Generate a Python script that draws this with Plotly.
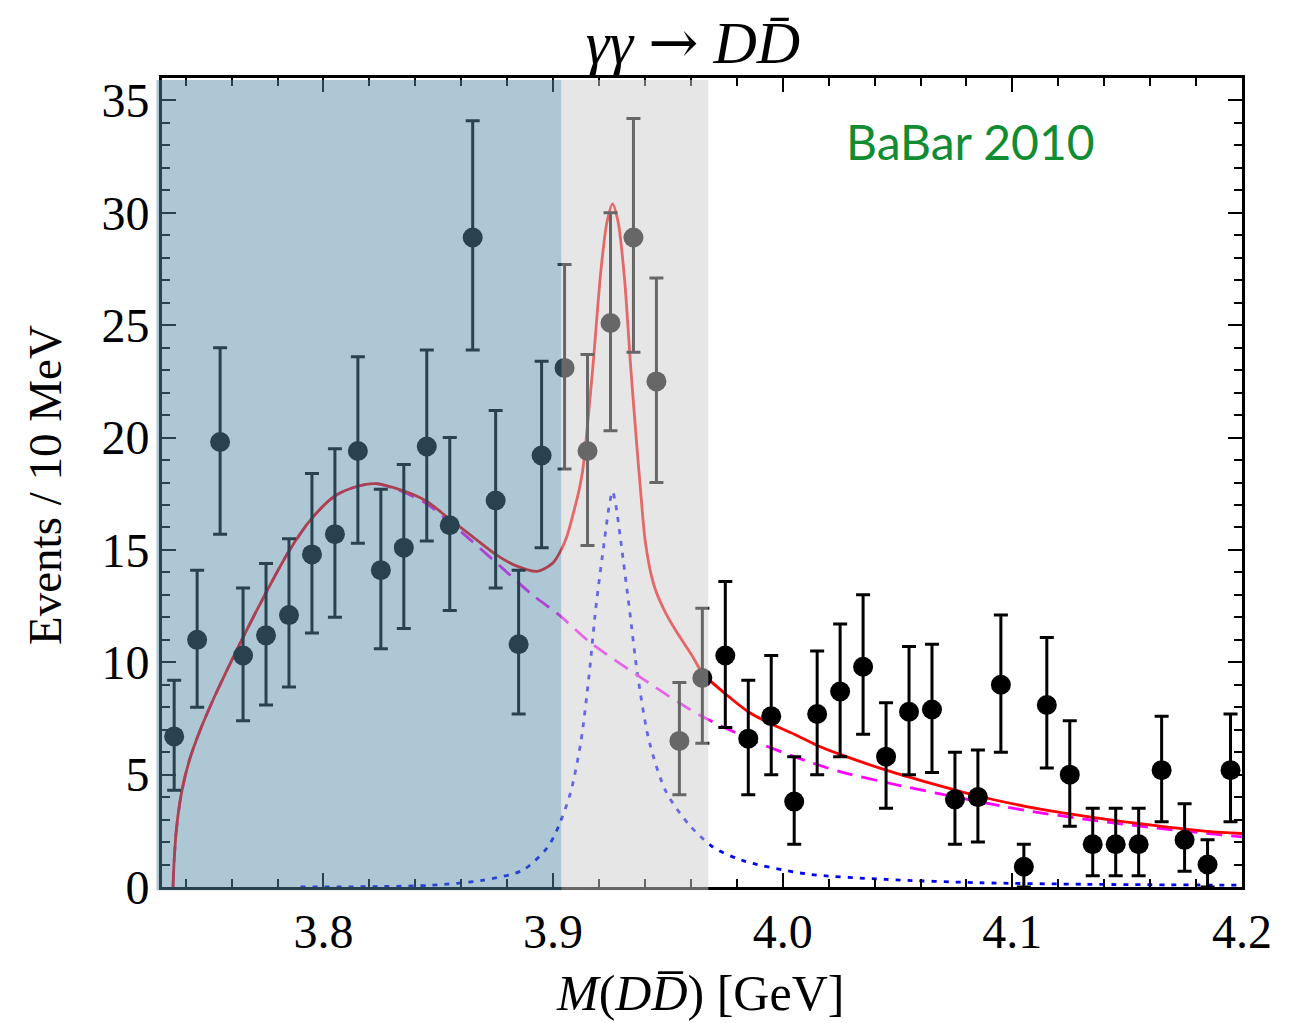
import plotly.graph_objects as go

# ---------------- data ----------------
mass = [3.735, 3.745, 3.755, 3.765, 3.775, 3.785, 3.795, 3.805, 3.815, 3.825,
        3.835, 3.845, 3.855, 3.865, 3.875, 3.885, 3.895, 3.905, 3.915, 3.925,
        3.935, 3.945, 3.955, 3.965, 3.975, 3.985, 3.995, 4.005, 4.015, 4.025,
        4.035, 4.045, 4.055, 4.065, 4.075, 4.085, 4.095, 4.105, 4.115, 4.125,
        4.135, 4.145, 4.155, 4.165, 4.175, 4.185, 4.195]
events = [6.7, 11.0, 19.8, 10.3, 11.2, 12.1, 14.8, 15.7, 19.4, 14.1,
          15.1, 19.6, 16.1, 28.9, 17.2, 10.8, 19.2, 23.1, 19.4, 25.1,
          28.9, 22.5, 6.5, 9.3, 10.3, 6.6, 7.6, 3.8, 7.7, 8.7,
          9.8, 5.8, 7.8, 7.9, 3.9, 4.0, 9.0, 0.9, 8.1, 5.0,
          1.9, 1.9, 1.9, 5.2, 2.1, 1.0, 5.2]
err_up = [2.5, 3.1, 4.2, 3.0, 3.2, 3.4, 3.6, 3.8, 4.2, 3.6,
          3.7, 4.3, 3.9, 5.2, 4.0, 3.3, 4.2, 4.6, 4.3, 4.9,
          5.3, 4.6, 2.6, 3.1, 3.3, 2.6, 2.7, 2.0, 2.8, 3.0,
          3.2, 2.4, 2.9, 2.9, 2.1, 2.1, 3.1, 1.0, 3.0, 2.4,
          1.6, 1.6, 1.6, 2.4, 1.6, 1.1, 2.5]
err_down = [2.4, 3.0, 4.1, 2.9, 3.1, 3.2, 3.5, 3.7, 4.1, 3.5,
            3.6, 4.2, 3.8, 5.0, 3.9, 3.1, 4.1, 4.5, 4.2, 4.8,
            5.1, 4.5, 2.4, 2.9, 3.2, 2.5, 2.6, 1.9, 2.7, 2.9,
            3.0, 2.3, 2.8, 2.8, 2.0, 2.0, 3.0, 0.9, 2.8, 2.3,
            1.4, 1.4, 1.4, 2.3, 1.4, 1.0, 2.3]

# total fit (solid red)
total_x = [3.7345, 3.7350, 3.7360, 3.7382, 3.7415, 3.7460, 3.7527, 3.7630, 3.7745,
           3.7847, 3.7949, 3.8050, 3.8138, 3.8226, 3.8313, 3.8444, 3.8546, 3.8648, 3.8750,
           3.8837, 3.8931, 3.8997, 3.9030, 3.9060, 3.9090, 3.9114, 3.9130, 3.9172, 3.9208,
           3.9235, 3.9259, 3.9283, 3.9310, 3.9339, 3.9365, 3.9383, 3.9400, 3.9427, 3.9450,
           3.9490, 3.9535, 3.9608, 3.9652, 3.9750, 3.9850, 3.9950, 4.0050, 4.0150, 4.0250,
           4.0450, 4.0650, 4.0850, 4.1050, 4.1250, 4.1450, 4.1650, 4.1850, 4.2000]
total_y = [0.0, 1.2, 2.6, 4.2, 5.6, 6.9, 8.5, 10.7, 13.0,
           14.9, 16.4, 17.4, 17.8, 17.95, 17.75, 17.2, 16.4, 15.6, 14.8,
           14.3, 14.05, 14.4, 14.9, 15.6, 16.7, 17.7, 18.6, 23.0, 27.4,
           29.6, 30.4, 29.6, 27.2, 23.0, 19.6, 17.4, 15.5, 13.9, 13.1,
           12.2, 11.4, 10.25, 9.5, 8.6, 7.8, 7.25, 6.8, 6.3, 5.9,
           5.2, 4.6, 4.05, 3.6, 3.25, 2.95, 2.7, 2.48, 2.38]

# background (dashed magenta)
bkg_x = [3.7345, 3.7350, 3.7360, 3.7382, 3.7415, 3.7460, 3.7527, 3.7630, 3.7745,
         3.7847, 3.7949, 3.8050, 3.8138, 3.8226, 3.8313, 3.8444, 3.8546, 3.8648, 3.8779,
         3.8910, 3.9026, 3.9157, 3.9376, 3.9638, 3.985, 4.005, 4.025, 4.045, 4.075,
         4.105, 4.135, 4.165, 4.2]
bkg_y = [0.0, 1.2, 2.6, 4.2, 5.6, 6.9, 8.5, 10.7, 13.0,
         14.9, 16.4, 17.4, 17.8, 17.95, 17.72, 17.09, 16.27, 15.38, 14.19,
         13.0, 12.11, 10.92, 9.36, 7.65, 6.61, 5.8, 5.13, 4.65, 4.01,
         3.42, 2.97, 2.6, 2.23]

# resonance signal (dotted blue)
sig_x = [3.79, 3.8255, 3.8473, 3.8692, 3.8866, 3.8975, 3.9026, 3.9077, 3.9121, 3.9157,
         3.9186, 3.9223, 3.9245, 3.9259, 3.9273, 3.9295, 3.9332, 3.9368, 3.9419, 3.9492,
         3.9594, 3.9696, 3.9822, 4.0097, 4.045, 4.0861, 4.132, 4.2]
sig_y = [0.0, 0.02, 0.08, 0.30, 0.74, 1.75, 2.75, 4.24, 6.46, 9.44,
         12.41, 15.38, 17.0, 17.6, 17.0, 15.38, 12.41, 9.44, 6.46, 4.24,
         2.75, 1.78, 1.19, 0.59, 0.34, 0.19, 0.12, 0.08]

x_range = [3.7297, 4.2]
y_range = [0, 36]
band_blue = [3.7273, 3.9036]
band_gray = [3.9036, 3.9676]

# ---------------- figure ----------------
fig = go.Figure()

fig.add_trace(go.Scatter(x=sig_x, y=sig_y, mode="lines",
                         line=dict(color="rgb(0,0,255)", width=2.8, dash="5px,7px", shape="spline", smoothing=0.8),
                         hoverinfo="skip", showlegend=False))
fig.add_trace(go.Scatter(x=bkg_x, y=bkg_y, mode="lines",
                         line=dict(color="rgb(255,0,255)", width=2.8, dash="16px,9px", shape="spline", smoothing=0.8),
                         hoverinfo="skip", showlegend=False))
fig.add_trace(go.Scatter(x=total_x, y=total_y, mode="lines",
                         line=dict(color="rgb(255,0,0)", width=2.8, shape="spline", smoothing=0.8),
                         hoverinfo="skip", showlegend=False))
fig.add_trace(go.Scatter(x=mass, y=events, mode="markers",
                         marker=dict(color="black", size=20),
                         error_y=dict(type="data", symmetric=False, array=err_up, arrayminus=err_down,
                                      color="black", thickness=3, width=7),
                         showlegend=False))


def xp(v):
    return (v - x_range[0]) / (x_range[1] - x_range[0])


shapes = [
    dict(type="rect", xref="paper", yref="paper",
         x0=min(xp(band_blue[0]), -0.004), x1=xp(band_blue[1]), y0=-0.004, y1=0.9975,
         fillcolor="rgba(83,137,166,0.48)", line=dict(width=0), layer="above"),
    dict(type="rect", xref="paper", yref="paper",
         x0=xp(band_gray[0]), x1=xp(band_gray[1]), y0=-0.004, y1=0.9975,
         fillcolor="rgba(205,205,205,0.5)", line=dict(width=0), layer="above"),
]

serif = "Liberation Serif, Times New Roman, serif"

fig.update_layout(
    width=1301, height=1023,
    margin=dict(l=162, r=59, t=78, b=136),
    paper_bgcolor="white", plot_bgcolor="white",
    shapes=shapes,
    title=dict(text="<i>γγ</i> <span style='font-family:DejaVu Serif'>→</span> <i>D</i><i>D\u0304</i>",
               x=693 / 1301, xanchor="center", y=1 - 42 / 1023, yanchor="middle", yref="container",
               font=dict(family=serif, size=60, color="black")),
    xaxis=dict(range=x_range, tickmode="linear", tick0=3.8, dtick=0.1, tickformat=".1f",
               ticks="inside", ticklen=14, tickwidth=2, tickcolor="black",
               showline=True, linewidth=3, linecolor="black", mirror="allticks",
               showgrid=False, zeroline=False,
               tickfont=dict(family=serif, size=48, color="black"),
               minor=dict(tick0=3.8, dtick=0.02, ticks="inside", ticklen=8, tickwidth=1.5,
                          tickcolor="black", showgrid=False)),
    yaxis=dict(range=y_range, tickmode="linear", tick0=0, dtick=5,
               ticks="inside", ticklen=14, tickwidth=2, tickcolor="black",
               showline=True, linewidth=3, linecolor="black", mirror="allticks",
               showgrid=False, zeroline=False,
               tickfont=dict(family=serif, size=48, color="black"),
               minor=dict(tick0=0, dtick=1, ticks="inside", ticklen=8, tickwidth=1.5,
                          tickcolor="black", showgrid=False)),
    annotations=[
        dict(text="<i>M</i>(<i>D</i><i>D\u0305</i>) [GeV]", xref="paper", yref="paper",
             x=(700 - 162) / 1080, y=-(993 - 887) / 809, xanchor="center", yanchor="middle",
             showarrow=False, font=dict(family=serif, size=50, color="black")),
        dict(text="Events / 10 MeV", xref="paper", yref="paper",
             x=-(162 - 45) / 1080, y=(887 - 485) / 809, xanchor="center", yanchor="middle",
             textangle=-90, showarrow=False, font=dict(family=serif, size=47, color="black")),
        dict(text="BaBar 2010", xref="paper", yref="paper",
             x=(970 - 162) / 1080, y=(887 - 142) / 809, xanchor="center", yanchor="middle",
             showarrow=False, font=dict(family="Lato, Open Sans, sans-serif", size=48,
                                        color="rgb(16,140,50)")),
    ],
)

fig.write_html("out.html")
